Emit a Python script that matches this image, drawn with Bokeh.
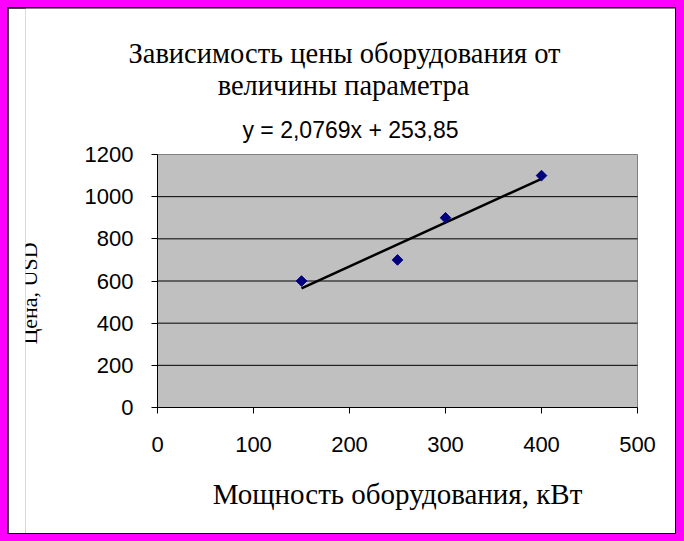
import numpy as np
from bokeh.plotting import figure
from bokeh.models import LinearAxis, FixedTicker, Label, Range1d, GlobalInlineStyleSheet
from bokeh.core.properties import value
from bokeh.embed import file_html
from bokeh.resources import INLINE

# ---------------- data ----------------
power_kw = [150, 250, 300, 400]
price_usd = [600, 700, 900, 1100]
x_ticks = [0, 100, 200, 300, 400, 500]
y_ticks = [0, 200, 400, 600, 800, 1000, 1200]
title_lines = ["Зависимость цены оборудования от", "величины параметра"]
x_label = "Мощность оборудования, кВт"
y_label = "Цена, USD"

# linear trend fitted to the data
slope, intercept = np.polyfit(power_kw, price_usd, 1)
eq_text = ("y = %.4fx + %.2f" % (slope, intercept)).replace(".", ",")

# ---------------- geometry (page pixels) ----------------
PAGE_OFF = 8
FIG_W, FIG_H = 667, 525
PA_LEFT, PA_RIGHT, PA_TOP, PA_BOTTOM = 157, 637, 154, 407   # plot area on page
FRAME_LEFT = 25                                              # clip edge on page

x0, x1 = x_ticks[0], x_ticks[-1]
y0, y1 = y_ticks[0], y_ticks[-1]
XS = (PA_RIGHT - PA_LEFT) / (x1 - x0)
YS = (PA_BOTTOM - PA_TOP) / (y1 - y0)


def px_x(px):
    return x0 + (px - PA_LEFT) / XS


def px_y(py):
    return y0 + (PA_BOTTOM - py) / YS


x_range = Range1d(px_x(FRAME_LEFT), px_x(PAGE_OFF + FIG_W))
y_range = Range1d(px_y(PAGE_OFF + FIG_H), px_y(PAGE_OFF))

p = figure(width=FIG_W, height=FIG_H, x_range=x_range, y_range=y_range,
           output_backend="svg", toolbar_location=None,
           x_axis_location=None, y_axis_location=None,
           min_border_left=FRAME_LEFT - PAGE_OFF, min_border_right=0,
           min_border_top=0, min_border_bottom=0,
           background_fill_color="white", border_fill_color="white",
           outline_line_color=None)
p.xgrid.visible = False
p.ygrid.visible = False
p.styles = {"outline": "2px solid black", "outline-offset": "-1px"}
p.stylesheets = [GlobalInlineStyleSheet(
    css="html, body { background-color: #FF00FF !important; } "
        "body { padding: 8px !important; margin: 0 !important; box-sizing: border-box; }")]

# plot area
p.quad(left=[x0], right=[x1], bottom=[y0], top=[y1],
       fill_color="#C0C0C0", line_color="#808080", line_width=1)

# horizontal gridlines
grid_y = y_ticks[1:-1]
p.segment(x0=[x0] * len(grid_y), x1=[x1] * len(grid_y), y0=grid_y, y1=grid_y,
          line_color="black", line_width=1)

# trend line
tx = np.array([min(power_kw), max(power_kw)], dtype=float)
ty = slope * tx + intercept
p.line(tx, ty, line_color="black", line_width=2.5)

# points
p.scatter(power_kw, price_usd, marker="square", angle=np.pi / 4, size=7.5,
          fill_color="#000080", line_color="#000080")

# axes
yax = LinearAxis(fixed_location=x0, bounds=(y0, y1), ticker=FixedTicker(ticks=y_ticks))
xax = LinearAxis(fixed_location=y0, bounds=(x0, x1), ticker=FixedTicker(ticks=x_ticks))
for ax in (yax, xax):
    ax.axis_line_color = "black"
    ax.axis_line_width = 1
    ax.major_tick_line_color = "black"
    ax.major_tick_out = 6
    ax.major_tick_in = 0
    ax.minor_tick_out = 0
    ax.minor_tick_in = 0
    ax.major_label_text_font = "Liberation Sans"
    ax.major_label_text_font_size = "22px"
    ax.major_label_text_color = "black"
yax.major_label_standoff = 18
xax.major_label_standoff = 23
p.add_layout(yax, "left")
p.add_layout(xax, "below")

# texts
serif = "Liberation Serif"
p.add_layout(Label(x=px_x(344), y=px_y(53), text=title_lines[0], text_align="center",
                   text_baseline="alphabetic", text_font=serif, text_font_size="28.5px",
                   text_color="black"))
p.add_layout(Label(x=px_x(343), y=px_y(85), text=title_lines[1], text_align="center",
                   text_baseline="alphabetic", text_font=serif, text_font_size="28.5px",
                   text_color="black"))
p.add_layout(Label(x=px_x(350), y=px_y(129), text=eq_text, text_align="center",
                   text_baseline="alphabetic", text_font="Liberation Sans",
                   text_font_size="23px", text_color="black"))
p.add_layout(Label(x=px_x(397), y=px_y(493), text=x_label, text_align="center",
                   text_baseline="alphabetic", text_font=serif, text_font_size="29px",
                   text_color="black"))
# y-axis title, partly clipped by the frame edge
p.text(x=[px_x(29)], y=[px_y(293)], text=[y_label], angle=np.pi / 2,
       text_align="center", text_baseline="alphabetic",
       text_font=value(serif), text_font_size=value("22px"), text_color="black")

open("out.html", "w").write(file_html(p, INLINE))
